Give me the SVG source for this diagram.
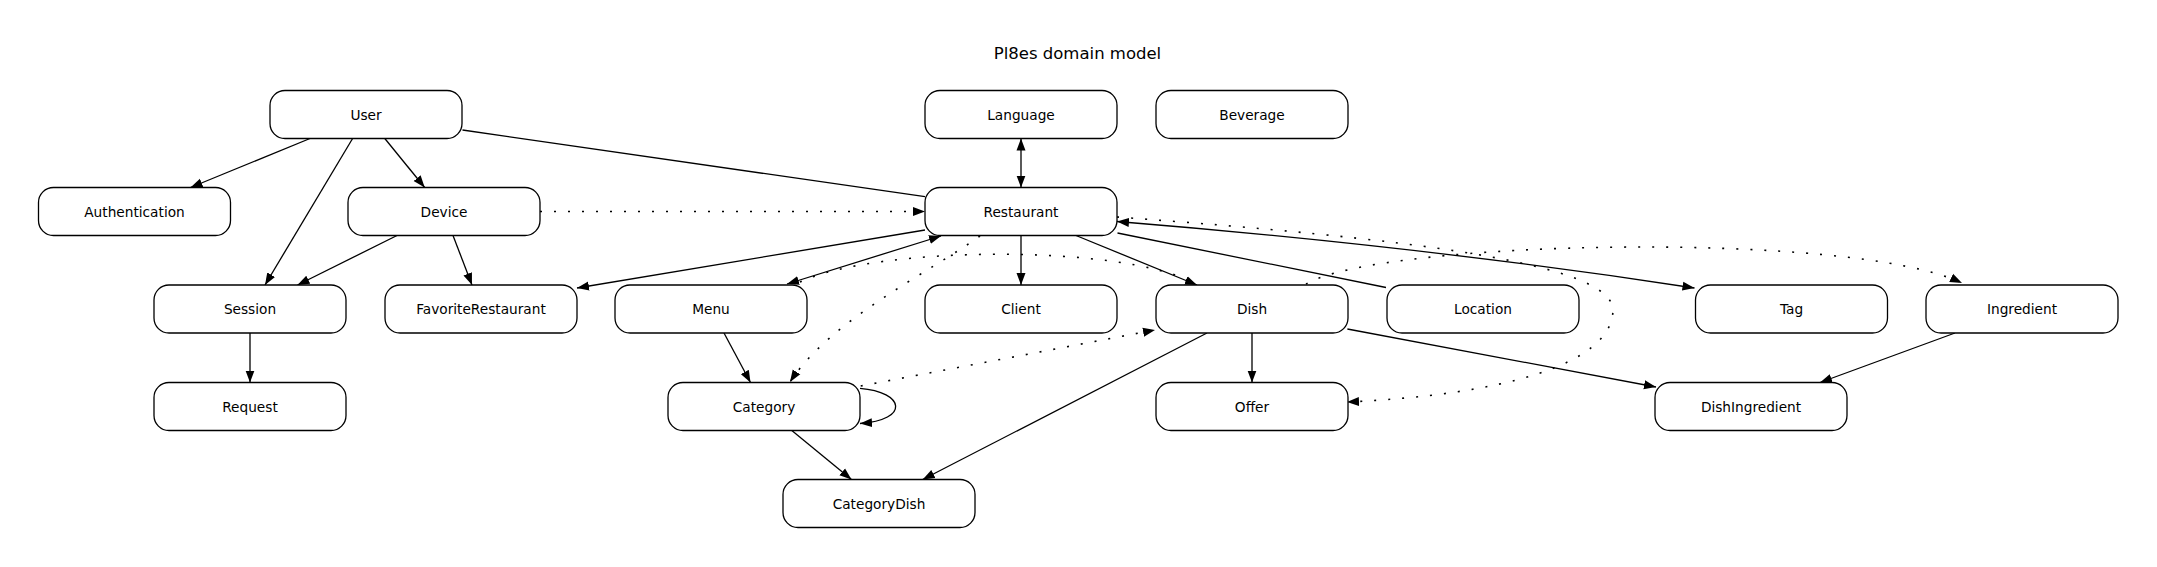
<svg xmlns="http://www.w3.org/2000/svg" width="2157" height="567" viewBox="0 0 2157 567">
<style>
  .node rect { fill: #ffffff; stroke: #000000; stroke-width: 1.3; }
  .node text { font-family: "DejaVu Sans", "Liberation Sans", sans-serif; font-size: 13.7px; fill: #000000; text-anchor: middle; }
  .title { font-family: "DejaVu Sans", "Liberation Sans", sans-serif; font-size: 16.5px; fill: #000000; text-anchor: middle; }
  .edge { fill: none; stroke: #000000; stroke-width: 1.3; }
  .dot { stroke-dasharray: 2 12; stroke-width: 1.6; }
  .arr { marker-end: url(#ah); }
  .both { marker-start: url(#ah); marker-end: url(#ah); }
</style>
<defs>
  <marker id="ah" markerUnits="userSpaceOnUse" markerWidth="13" markerHeight="10" refX="12" refY="4.5" orient="auto-start-reverse" viewBox="0 0 13 9">
    <path d="M0,0 L12,4.5 L0,9 z" fill="#000000" stroke="none"/>
  </marker>
</defs>
<rect x="0" y="0" width="2157" height="567" fill="#ffffff"/>
<text class="title" x="1077.5" y="59">Pl8es domain model</text>

<g id="connectors">
  <path class="edge arr" d="M310,138.5 L190.5,187.5"/>
  <path class="edge arr" d="M352.6,138.5 L265,285"/>
  <path class="edge arr" d="M384.8,138.5 L424.7,187.5"/>
  <path class="edge" d="M462.5,130 L925,196.7"/>
  <path class="edge dot arr" d="M540,211.5 L925,211.5"/>
  <path class="edge arr" d="M397,235.5 L297.5,285"/>
  <path class="edge arr" d="M453,235.5 L472,285"/>
  <path class="edge both" d="M1021,138.5 L1021,187.5"/>
  <path class="edge arr" d="M925,230 L577,288"/>
  <path class="edge both" d="M941,236 L787,284"/>
  <path class="edge arr" d="M1021,235.5 L1021,285"/>
  <path class="edge arr" d="M1076,235.5 L1197,285"/>
  <path class="edge" d="M1117.5,233 L1386,287.5"/>
  <path class="edge both" d="M1117,221.5 Q1420,246 1694.5,288"/>
  <path class="edge dot arr" d="M1117,217 C1400,238 1612,262 1613,310 C1612,365 1500,395 1347,402"/>
  <path class="edge dot" d="M800,282 C880,245 1120,245 1192,282"/>
  <path class="edge dot arr" d="M980,236 C930,272 830,320 790,382"/>
  <path class="edge arr" d="M724,333 L750.5,382.5"/>
  <path class="edge dot arr" d="M860.7,386 L1155,330"/>
  <path class="edge arr" d="M860,388.3 C905,392 910,420 860,423.5"/>
  <path class="edge arr" d="M791.8,430.5 L851.5,479.5"/>
  <path class="edge arr" d="M1207,333 L922.7,479.5"/>
  <path class="edge arr" d="M1252,333 L1252,382.5"/>
  <path class="edge arr" d="M1347.4,329 L1656,387"/>
  <path class="edge arr" d="M1955,333 L1820,382.5"/>
  <path class="edge dot arr" d="M1306,284 C1380,240 1850,230 1962,283"/>
  <path class="edge arr" d="M250,333 L250,382.5"/>
</g>

<g id="node-user" class="node"><rect x="270" y="90.5" width="192" height="48" rx="15" ry="15"/><text x="366" y="119.5">User</text></g>
<g id="node-language" class="node"><rect x="925" y="90.5" width="192" height="48" rx="15" ry="15"/><text x="1021" y="119.5">Language</text></g>
<g id="node-beverage" class="node"><rect x="1156" y="90.5" width="192" height="48" rx="15" ry="15"/><text x="1252" y="119.5">Beverage</text></g>
<g id="node-authentication" class="node"><rect x="38.5" y="187.5" width="192" height="48" rx="15" ry="15"/><text x="134.5" y="216.5">Authentication</text></g>
<g id="node-device" class="node"><rect x="348" y="187.5" width="192" height="48" rx="15" ry="15"/><text x="444" y="216.5">Device</text></g>
<g id="node-restaurant" class="node"><rect x="925" y="187.5" width="192" height="48" rx="15" ry="15"/><text x="1021" y="216.5">Restaurant</text></g>
<g id="node-session" class="node"><rect x="154" y="285" width="192" height="48" rx="15" ry="15"/><text x="250" y="314">Session</text></g>
<g id="node-favoriterestaurant" class="node"><rect x="385" y="285" width="192" height="48" rx="15" ry="15"/><text x="481" y="314">FavoriteRestaurant</text></g>
<g id="node-menu" class="node"><rect x="615" y="285" width="192" height="48" rx="15" ry="15"/><text x="711" y="314">Menu</text></g>
<g id="node-client" class="node"><rect x="925" y="285" width="192" height="48" rx="15" ry="15"/><text x="1021" y="314">Client</text></g>
<g id="node-dish" class="node"><rect x="1156" y="285" width="192" height="48" rx="15" ry="15"/><text x="1252" y="314">Dish</text></g>
<g id="node-location" class="node"><rect x="1387" y="285" width="192" height="48" rx="15" ry="15"/><text x="1483" y="314">Location</text></g>
<g id="node-tag" class="node"><rect x="1695.5" y="285" width="192" height="48" rx="15" ry="15"/><text x="1791.5" y="314">Tag</text></g>
<g id="node-ingredient" class="node"><rect x="1926" y="285" width="192" height="48" rx="15" ry="15"/><text x="2022" y="314">Ingredient</text></g>
<g id="node-request" class="node"><rect x="154" y="382.5" width="192" height="48" rx="15" ry="15"/><text x="250" y="411.5">Request</text></g>
<g id="node-category" class="node"><rect x="668" y="382.5" width="192" height="48" rx="15" ry="15"/><text x="764" y="411.5">Category</text></g>
<g id="node-offer" class="node"><rect x="1156" y="382.5" width="192" height="48" rx="15" ry="15"/><text x="1252" y="411.5">Offer</text></g>
<g id="node-dishingredient" class="node"><rect x="1655" y="382.5" width="192" height="48" rx="15" ry="15"/><text x="1751" y="411.5">DishIngredient</text></g>
<g id="node-categorydish" class="node"><rect x="783" y="479.5" width="192" height="48" rx="15" ry="15"/><text x="879" y="508.5">CategoryDish</text></g>
</svg>
